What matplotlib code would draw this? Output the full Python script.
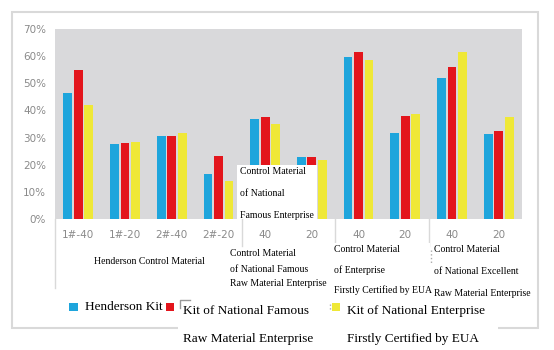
import matplotlib
matplotlib.use('Agg')
import matplotlib.pyplot as plt
from matplotlib.patches import Rectangle
import numpy as np

# categories and values (%)
cats = ['1#-40', '1#-20', '2#-40', '2#-20', '40', '20', '40', '20', '40', '20']
henderson_kit = [46.3, 27.5, 30.7, 16.6, 36.8, 22.7, 59.6, 31.6, 52.1, 31.2]
famous_kit = [54.8, 27.9, 30.7, 23.1, 37.6, 22.7, 61.6, 38.0, 56.1, 32.3]
eua_kit = [41.9, 28.3, 31.6, 13.9, 35.1, 21.7, 58.6, 38.8, 61.4, 37.6]
yticks = [0, 10, 20, 30, 40, 50, 60, 70]

W, H = 554, 350
serif = 'Liberation Serif'
grey_txt = '#8a8a8a'
frame_c = '#d9d9d9'


def px(x0, y0, x1, y1):
    return [x0 / W, 1 - y1 / H, (x1 - x0) / W, (y1 - y0) / H]


fig = plt.figure(figsize=(W / 100, H / 100), dpi=100)
fig.patch.set_facecolor('white')

ax = fig.add_axes(px(55, 29, 522, 219))
ax.set_facecolor('#d9d9db')
x = np.arange(len(cats))
bw = 0.19
off = 0.225
ax.bar(x - off, henderson_kit, bw, color='#1ea5dc', zorder=2)
ax.bar(x, famous_kit, bw, color='#e3151c', zorder=2)
ax.bar(x + off, eua_kit, bw, color='#efe837', zorder=2)
ax.set_xlim(-0.5, len(cats) - 0.5)
ax.set_ylim(0, 70)
ax.set_yticks(yticks)
ax.set_yticklabels(['%d%%' % v for v in yticks])
ax.set_xticks(x)
ax.set_xticklabels(cats)
for s in ax.spines.values():
    s.set_visible(False)
ax.tick_params(axis='both', length=0, colors=grey_txt, labelsize=7.5)
ax.tick_params(axis='y', pad=6.5)
ax.tick_params(axis='x', pad=8)

# separators between category groups
for sx in [3.5, 5.5, 7.5]:
    ax.plot([sx, sx], [0, -10], color=frame_c, lw=1, clip_on=False)

# overlay in pixel coordinates
ov = fig.add_axes([0, 0, 1, 1])
ov.set_xlim(0, W)
ov.set_ylim(H, 0)
ov.axis('off')

ov.add_patch(Rectangle((12, 12), 526, 316, fill=False, ec=frame_c, lw=1.5, zorder=1))
ov.plot([55, 55], [219, 288], color=frame_c, lw=1, zorder=1)

ov.text(149, 261, 'Henderson Control Material', ha='center', va='center',
        family=serif, size=7)

# box over the bars
ov.add_patch(Rectangle((237, 165), 80, 54, fc='white', ec='none', zorder=3))
for yy, t in zip([171, 194, 216], ['Control Material', 'of National', 'Famous Enterprise']):
    ov.text(240, yy, t, ha='left', va='center', family=serif, size=7, zorder=4)

for yy, t in zip([254, 269, 284], ['Control Material', 'of National Famous', 'Raw Material Enterprise']):
    ov.text(230, yy, t, ha='left', va='center', family=serif, size=7, zorder=4)

ov.add_patch(Rectangle((333, 243), 97, 55, fc='white', ec='none', zorder=3))
for yy, t in zip([249, 270, 290], ['Control Material', 'of Enterprise', 'Firstly Certified by EUA']):
    ov.text(334, yy, t, ha='left', va='center', family=serif, size=7, zorder=4)

ov.add_patch(Rectangle((432, 243), 103, 57, fc='white', ec='none', zorder=3))
ov.plot([431, 431], [250, 263], color='#aaaaaa', lw=1, ls=':', zorder=4)
for yy, t in zip([249, 271, 293], ['Control Material', 'of National Excellent', 'Raw Material Enterprise']):
    ov.text(434, yy, t, ha='left', va='center', family=serif, size=7, zorder=4)

# legend
ov.add_patch(Rectangle((69, 303), 9, 8, fc='#1ea5dc', ec='none', zorder=4))
ov.text(85, 307, 'Henderson Kit', ha='left', va='center', family=serif, size=9.5, zorder=4)
ov.add_patch(Rectangle((166, 303), 8, 8, fc='#e3151c', ec='none', zorder=4))

ov.add_patch(Rectangle((178, 298), 152, 52, fc='white', ec='none', zorder=3))
ov.plot([180, 180, 190], [308, 300, 300], color='#999999', lw=1, zorder=4)
ov.text(183, 311, 'Kit of National Famous', ha='left', va='center', family=serif, size=9.5, zorder=4)
ov.text(183, 339, 'Raw Material Enterprise', ha='left', va='center', family=serif, size=9.5, zorder=4)

ov.add_patch(Rectangle((325, 315), 20, 35, fc='white', ec='none', zorder=3))
ov.plot([330, 330], [304, 310], color='#aaaaaa', lw=1, ls=':', zorder=4)
ov.add_patch(Rectangle((332, 303), 8, 8, fc='#efe837', ec='none', zorder=4))
ov.add_patch(Rectangle((343, 298), 155, 52, fc='white', ec='none', zorder=3))
ov.text(347, 311, 'Kit of National Enterprise', ha='left', va='center', family=serif, size=9.5, zorder=4)
ov.text(347, 339, 'Firstly Certified by EUA', ha='left', va='center', family=serif, size=9.5, zorder=4)

fig.savefig('out.png', dpi=100)
